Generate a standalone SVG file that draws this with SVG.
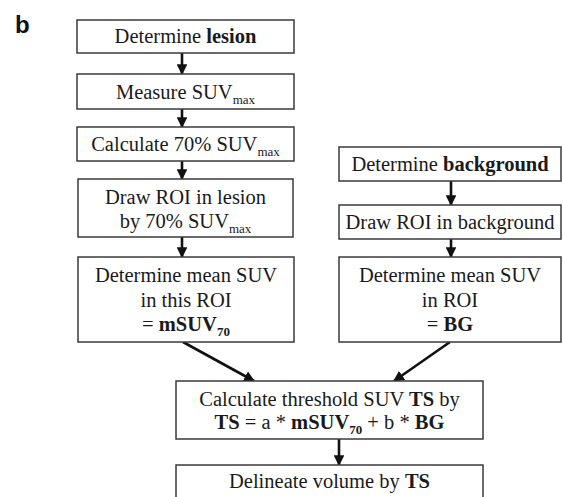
<svg xmlns="http://www.w3.org/2000/svg" width="563" height="497" viewBox="0 0 563 497">
  <style>
    .box { fill: #ffffff; stroke: #3a3a3a; stroke-width: 1.5; }
    .t { font-family: "Liberation Serif", "Times New Roman", serif; font-size: 20.5px; fill: #1a1a1a; text-anchor: middle; }
    .b { font-weight: bold; }
    .sub { font-size: 13px; }
    .arrow { stroke: #111111; stroke-width: 2.6; fill: none; marker-end: url(#head); }
    .label { font-family: "Liberation Sans", Arial, sans-serif; font-size: 24px; font-weight: bold; fill: #111111; }
  </style>
  <defs>
    <marker id="head" viewBox="0 0 10 10" refX="9" refY="5" markerWidth="4.2" markerHeight="4.2" orient="auto" markerUnits="strokeWidth">
      <path d="M0,0 L10,5 L0,10 z" fill="#111111"/>
    </marker>
  </defs>
  <rect width="563" height="497" fill="#ffffff"/>

  <text class="label" x="15" y="33">b</text>

  <g id="connectors">
    <line class="arrow" x1="182" y1="53" x2="182" y2="74"/>
    <line class="arrow" x1="182" y1="109" x2="182" y2="127"/>
    <line class="arrow" x1="182" y1="161" x2="182" y2="179"/>
    <line class="arrow" x1="182" y1="237" x2="182" y2="257"/>
    <line class="arrow" x1="451" y1="181" x2="451" y2="205"/>
    <line class="arrow" x1="451" y1="239" x2="451" y2="257"/>
    <line class="arrow" x1="183" y1="342" x2="254" y2="381"/>
    <line class="arrow" x1="450" y1="342" x2="394" y2="381"/>
    <line class="arrow" x1="339" y1="439" x2="339" y2="465"/>
  </g>

  <g id="determine-lesion">
    <rect class="box" x="77" y="20" width="217" height="33"/>
    <text class="t" x="185.5" y="43">Determine <tspan class="b">lesion</tspan></text>
  </g>

  <g id="measure-suvmax">
    <rect class="box" x="77" y="74" width="217" height="35"/>
    <text class="t" x="185.5" y="99">Measure SUV<tspan class="sub" dy="5">max</tspan></text>
  </g>

  <g id="calculate-70">
    <rect class="box" x="77" y="127" width="217" height="34"/>
    <text class="t" x="185.5" y="151">Calculate 70% SUV<tspan class="sub" dy="5">max</tspan></text>
  </g>

  <g id="draw-roi-lesion">
    <rect class="box" x="78" y="179" width="215" height="58"/>
    <text class="t" x="185.5" y="204">Draw ROI in lesion</text>
    <text class="t" x="185.5" y="228">by 70% SUV<tspan class="sub" dy="5">max</tspan></text>
  </g>

  <g id="mean-suv-lesion">
    <rect class="box" x="78" y="257" width="216" height="85"/>
    <text class="t" x="186" y="282">Determine mean SUV</text>
    <text class="t" x="186" y="307">in this ROI</text>
    <text class="t" x="186" y="331">= <tspan class="b">mSUV<tspan class="sub" dy="5">70</tspan></tspan></text>
  </g>

  <g id="determine-background">
    <rect class="box" x="339" y="147" width="222" height="34"/>
    <text class="t" x="450" y="171">Determine <tspan class="b">background</tspan></text>
  </g>

  <g id="draw-roi-background">
    <rect class="box" x="339" y="205" width="222" height="34"/>
    <text class="t" x="450" y="229">Draw ROI in background</text>
  </g>

  <g id="mean-suv-background">
    <rect class="box" x="339" y="257" width="222" height="85"/>
    <text class="t" x="450" y="282">Determine mean SUV</text>
    <text class="t" x="450" y="307">in ROI</text>
    <text class="t" x="450" y="331">= <tspan class="b">BG</tspan></text>
  </g>

  <g id="calculate-threshold">
    <rect class="box" x="176" y="381" width="307" height="58"/>
    <text class="t" x="329.5" y="406">Calculate threshold SUV <tspan class="b">TS</tspan> by</text>
    <text class="t" x="329.5" y="429"><tspan class="b">TS</tspan> = a * <tspan class="b">mSUV<tspan class="sub" dy="5">70</tspan></tspan><tspan dy="-5"> + b * </tspan><tspan class="b">BG</tspan></text>
  </g>

  <g id="delineate-volume">
    <rect class="box" x="176" y="465" width="307" height="40"/>
    <text class="t" x="329.5" y="488">Delineate volume by <tspan class="b">TS</tspan></text>
  </g>
</svg>
